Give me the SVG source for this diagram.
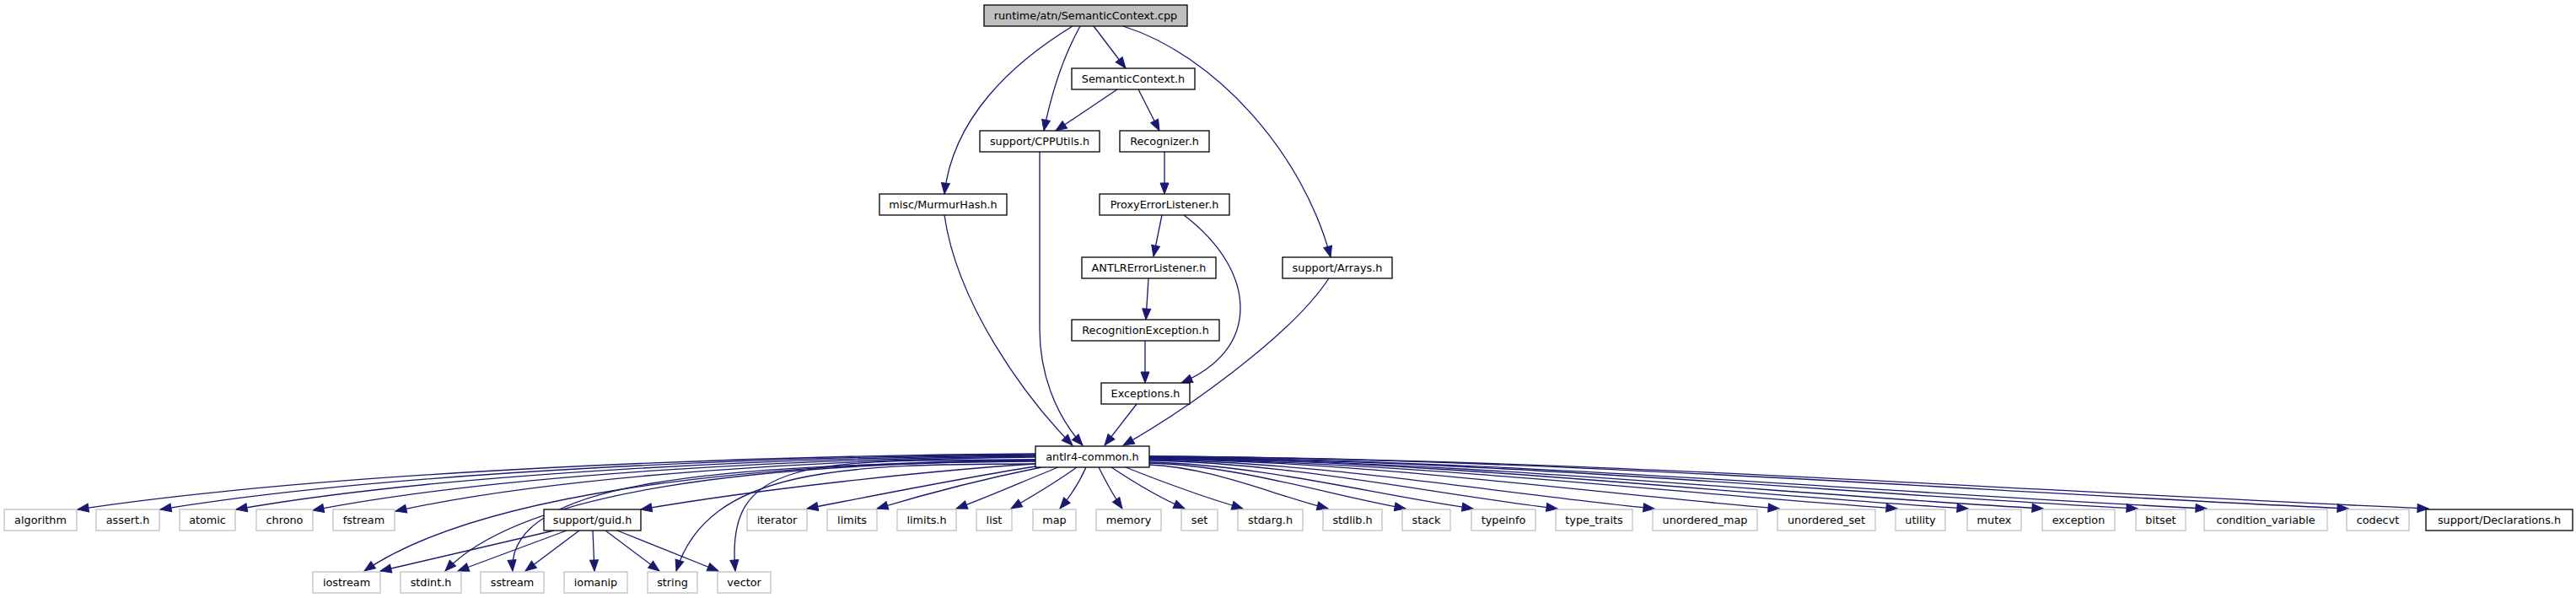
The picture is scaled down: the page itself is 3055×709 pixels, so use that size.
<svg xmlns="http://www.w3.org/2000/svg" width="3055" height="709" viewBox="0 0 3055 709">
<style>
.n rect{fill:#fff;stroke:#000;stroke-width:1.3}
.g rect{fill:#fff;stroke:#bfbfbf;stroke-width:1.3}
.r rect{fill:#bfbfbf;stroke:#000;stroke-width:1.3}
text{font-family:"DejaVu Sans","Liberation Sans",sans-serif;font-size:12.8px;fill:#000;text-anchor:middle}
#edges path{fill:none;stroke:#191970;stroke-width:1.3;marker-end:url(#ah)}
</style>
<defs>
<marker id="ah" markerUnits="userSpaceOnUse" markerWidth="13" markerHeight="10" viewBox="0 0 13 10" refX="13" refY="5" orient="auto" overflow="visible">
<path d="M0,0 L13,5 L0,10 Z" fill="#191970" stroke="#191970" stroke-width="1"/>
</marker>
</defs>
<rect width="3055" height="709" fill="#fff"/>
<g id="edges">
<path d="M1297,31 L1335,81"/>
<path d="M1281,31 C1265,60 1249,100 1238,155"/>
<path d="M1272,31 C1200,75 1130,140 1120,230"/>
<path d="M1332,31 C1440,65 1545,180 1578,305"/>
<path d="M1325,106 L1252,155"/>
<path d="M1350,106 L1375,155"/>
<path d="M1381,180 L1381,230"/>
<path d="M1378,255 L1368,304"/>
<path d="M1404,255 C1450,290 1471,330 1471,365 C1471,405 1445,435 1401,454"/>
<path d="M1362,330 L1359,379"/>
<path d="M1358,404 L1358,454"/>
<path d="M1348,479 L1310,528"/>
<path d="M1120,255 C1135,360 1215,470 1272,528"/>
<path d="M1233,180 L1233,390 C1233,440 1250,490 1284,528"/>
<path d="M1576,330 C1530,400 1400,490 1332,528"/>
<path d="M1228,538 C899,540 399,558 92,604"/>
<path d="M1228,539 C927,541 470,558 190,604"/>
<path d="M1228,540 C953,542 536,559 280,604"/>
<path d="M1228,541 C979,543 602,560 371,605"/>
<path d="M1228,542 C1008,544 674,561 469,606"/>
<path d="M1228,550 C1100,558 900,580 760,604"/>
<path d="M1228,553 C1150,565 1050,585 957,603"/>
<path d="M1235,554 C1170,567 1100,585 1040,603"/>
<path d="M1255,554 C1215,570 1170,590 1134,603"/>
<path d="M1277,554 C1255,570 1225,588 1199,603"/>
<path d="M1288,554 C1280,572 1268,590 1257,603"/>
<path d="M1303,554 C1312,572 1322,590 1331,603"/>
<path d="M1318,554 C1345,572 1375,590 1405,603"/>
<path d="M1335,554 C1380,572 1430,590 1474,603"/>
<path d="M1363,551 C1437,554 1511,587 1575,603"/>
<path d="M1363,549 C1469,552 1576,587 1667,603"/>
<path d="M1363,548 C1497,551 1632,587 1747,603"/>
<path d="M1363,546 C1532,549 1702,586 1847,603"/>
<path d="M1363,545 C1573,548 1782,586 1962,603"/>
<path d="M1363,544 C1624,547 1886,585 2110,603"/>
<path d="M1363,544 C1673,547 1984,585 2250,603"/>
<path d="M1363,543 C1703,546 2043,585 2334,603"/>
<path d="M1363,543 C1734,546 2105,585 2423,603"/>
<path d="M1363,542 C1773,545 2183,585 2535,603"/>
<path d="M1363,542 C1802,545 2241,585 2617,603"/>
<path d="M1363,541 C1861,544 2358,584 2785,603"/>
<path d="M1363,541 C1894,544 2425,584 2880,603"/>
<path d="M1228,545 C850,550 560,590 432,677"/>
<path d="M1228,546 C900,550 620,580 528,677"/>
<path d="M1228,547 C850,550 600,570 608,677"/>
<path d="M1228,550 C1000,550 840,555 802,677"/>
<path d="M1228,545 C950,545 860,545 872,677"/>
<path d="M657,629 L451,677"/>
<path d="M672,629 L543,677"/>
<path d="M687,629 L623,677"/>
<path d="M703,629 L705,677"/>
<path d="M718,629 L782,677"/>
<path d="M732,629 L852,677"/>
</g>
<g id="root" class="r"><rect x="1167" y="6" width="241" height="25"/><text x="1287.5" y="23">runtime/atn/SemanticContext.cpp</text></g>
<g id="semanticcontext_h" class="n"><rect x="1271" y="81" width="146" height="25"/><text x="1344" y="98">SemanticContext.h</text></g>
<g id="cpputils_h" class="n"><rect x="1162" y="155" width="142" height="25"/><text x="1233" y="172">support/CPPUtils.h</text></g>
<g id="recognizer_h" class="n"><rect x="1328" y="155" width="106" height="25"/><text x="1381" y="172">Recognizer.h</text></g>
<g id="murmurhash_h" class="n"><rect x="1043" y="230" width="151" height="25"/><text x="1118.5" y="247">misc/MurmurHash.h</text></g>
<g id="proxyerrorlistener_h" class="n"><rect x="1304" y="230" width="154" height="25"/><text x="1381" y="247">ProxyErrorListener.h</text></g>
<g id="antlrerrorlistener_h" class="n"><rect x="1283" y="305" width="159" height="25"/><text x="1362.5" y="322">ANTLRErrorListener.h</text></g>
<g id="arrays_h" class="n"><rect x="1521" y="305" width="130" height="25"/><text x="1586" y="322">support/Arrays.h</text></g>
<g id="recognitionexception_h" class="n"><rect x="1271" y="379" width="175" height="25"/><text x="1358.5" y="396">RecognitionException.h</text></g>
<g id="exceptions_h" class="n"><rect x="1306" y="454" width="105" height="25"/><text x="1358.5" y="471">Exceptions.h</text></g>
<g id="antlr4_common_h" class="n"><rect x="1228" y="529" width="135" height="25"/><text x="1295.5" y="546">antlr4-common.h</text></g>
<g id="algorithm" class="g"><rect x="5" y="604" width="86" height="25"/><text x="48" y="621">algorithm</text></g>
<g id="assert_h" class="g"><rect x="114" y="604" width="75" height="25"/><text x="151.5" y="621">assert.h</text></g>
<g id="atomic" class="g"><rect x="213" y="604" width="66" height="25"/><text x="246" y="621">atomic</text></g>
<g id="chrono" class="g"><rect x="304" y="604" width="67" height="25"/><text x="337.5" y="621">chrono</text></g>
<g id="fstream" class="g"><rect x="395" y="604" width="73" height="25"/><text x="431.5" y="621">fstream</text></g>
<g id="guid_h" class="n"><rect x="645" y="604" width="115" height="25"/><text x="702.5" y="621">support/guid.h</text></g>
<g id="iterator" class="g"><rect x="886" y="604" width="71" height="25"/><text x="921.5" y="621">iterator</text></g>
<g id="limits" class="g"><rect x="981" y="604" width="59" height="25"/><text x="1010.5" y="621">limits</text></g>
<g id="limits_h" class="g"><rect x="1064" y="604" width="70" height="25"/><text x="1099" y="621">limits.h</text></g>
<g id="list" class="g"><rect x="1158" y="604" width="42" height="25"/><text x="1179" y="621">list</text></g>
<g id="map" class="g"><rect x="1225" y="604" width="51" height="25"/><text x="1250.5" y="621">map</text></g>
<g id="memory" class="g"><rect x="1300" y="604" width="77" height="25"/><text x="1338.5" y="621">memory</text></g>
<g id="set" class="g"><rect x="1401" y="604" width="43" height="25"/><text x="1422.5" y="621">set</text></g>
<g id="stdarg_h" class="g"><rect x="1468" y="604" width="77" height="25"/><text x="1506.5" y="621">stdarg.h</text></g>
<g id="stdlib_h" class="g"><rect x="1569" y="604" width="70" height="25"/><text x="1604" y="621">stdlib.h</text></g>
<g id="stack" class="g"><rect x="1663" y="604" width="57" height="25"/><text x="1691.5" y="621">stack</text></g>
<g id="typeinfo" class="g"><rect x="1745" y="604" width="76" height="25"/><text x="1783" y="621">typeinfo</text></g>
<g id="type_traits" class="g"><rect x="1845" y="604" width="91" height="25"/><text x="1890.5" y="621">type_traits</text></g>
<g id="unordered_map" class="g"><rect x="1960" y="604" width="124" height="25"/><text x="2022" y="621">unordered_map</text></g>
<g id="unordered_set" class="g"><rect x="2108" y="604" width="116" height="25"/><text x="2166" y="621">unordered_set</text></g>
<g id="utility" class="g"><rect x="2248" y="604" width="59" height="25"/><text x="2277.5" y="621">utility</text></g>
<g id="mutex" class="g"><rect x="2333" y="604" width="64" height="25"/><text x="2365" y="621">mutex</text></g>
<g id="exception" class="g"><rect x="2422" y="604" width="86" height="25"/><text x="2465" y="621">exception</text></g>
<g id="bitset" class="g"><rect x="2533" y="604" width="59" height="25"/><text x="2562.5" y="621">bitset</text></g>
<g id="condition_variable" class="g"><rect x="2614" y="604" width="146" height="25"/><text x="2687" y="621">condition_variable</text></g>
<g id="codecvt" class="g"><rect x="2783" y="604" width="74" height="25"/><text x="2820" y="621">codecvt</text></g>
<g id="declarations_h" class="n"><rect x="2877" y="604" width="174" height="25"/><text x="2964" y="621">support/Declarations.h</text></g>
<g id="iostream" class="g"><rect x="371" y="678" width="80" height="25"/><text x="411" y="695">iostream</text></g>
<g id="stdint_h" class="g"><rect x="475" y="678" width="72" height="25"/><text x="511" y="695">stdint.h</text></g>
<g id="sstream" class="g"><rect x="570" y="678" width="75" height="25"/><text x="607.5" y="695">sstream</text></g>
<g id="iomanip" class="g"><rect x="669" y="678" width="75" height="25"/><text x="706.5" y="695">iomanip</text></g>
<g id="string" class="g"><rect x="768" y="678" width="59" height="25"/><text x="797.5" y="695">string</text></g>
<g id="vector" class="g"><rect x="851" y="678" width="63" height="25"/><text x="882.5" y="695">vector</text></g>
</svg>
